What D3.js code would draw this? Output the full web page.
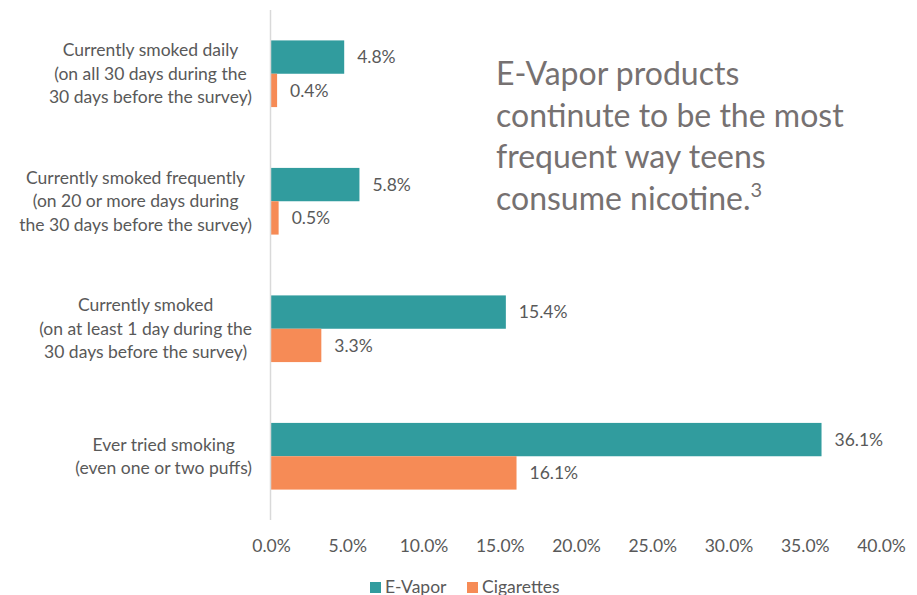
<!DOCTYPE html>
<html lang="en">
  <head>
    <meta charset="UTF-8" />
    <title>E-Vapor vs Cigarettes</title>
    <script src="https://cdn.jsdelivr.net/npm/d3@7"></script>
    <style>
      body { margin: 0; background: #fff; }
      svg { display: block; font-family: Lato, "Open Sans", sans-serif; }
    </style>
  </head>
  <body>
    <svg width="917" height="595"></svg>
    <script>
      // categories (top to bottom), each label is split in lines
      const categories = [
        ["Currently smoked daily", "(on all 30 days during the", "30 days before the survey)"],
        ["Currently smoked frequently", "(on 20 or more days during", "the 30 days before the survey)"],
        ["Currently smoked", "(on at least 1 day during the", "30 days before the survey)"],
        ["Ever tried smoking", "(even one or two puffs)"]
      ];
      const series = ["E-Vapor", "Cigarettes"];
      const eVapor = [4.8, 5.8, 15.4, 36.1];
      const cigarettes = [0.4, 0.5, 3.3, 16.1];
      const xTicks = [0, 5, 10, 15, 20, 25, 30, 35, 40];
      const note = ["E-Vapor products", "continute to be the most", "frequent way teens", "consume nicotine."];

      const colors = { "E-Vapor": "#319C9E", "Cigarettes": "#F68B56" };
      const textColor = "#595959";

      const svg = d3.select("svg");
      const plotLeft = 271, plotRight = 881, plotTop = 10, plotBottom = 520;

      const x = d3.scaleLinear().domain([0, 40]).range([plotLeft, plotRight]);
      const y = d3.scaleBand()
        .domain(d3.range(categories.length))
        .range([plotTop, plotBottom])
        .paddingInner(0.477)
        .paddingOuter(0.2385);
      const ySub = d3.scaleBand().domain(series).range([0, y.bandwidth()]);

      const rows = categories.map((c, i) => ({
        i,
        vals: [
          { key: "E-Vapor", v: eVapor[i] },
          { key: "Cigarettes", v: cigarettes[i] }
        ]
      }));

      // bars
      const g = svg.selectAll("g.row").data(rows).join("g")
        .attr("class", "row")
        .attr("transform", d => `translate(0,${y(d.i)})`);

      g.selectAll("rect").data(d => d.vals).join("rect")
        .attr("x", x(0))
        .attr("y", d => ySub(d.key))
        .attr("width", d => x(d.v) - x(0))
        .attr("height", ySub.bandwidth())
        .attr("fill", d => colors[d.key]);

      g.selectAll("text.val").data(d => d.vals).join("text")
        .attr("class", "val")
        .attr("x", d => x(d.v) + 13)
        .attr("y", d => ySub(d.key) + ySub.bandwidth() / 2)
        .attr("dy", "0.35em")
        .attr("font-size", 17.5)
        .attr("fill", textColor)
        .text(d => d.v.toFixed(1) + "%");

      // vertical axis line
      svg.append("line")
        .attr("x1", plotLeft - 0.5).attr("x2", plotLeft - 0.5)
        .attr("y1", plotTop).attr("y2", plotBottom)
        .attr("stroke", "#d9d9d9").attr("stroke-width", 1.5);

      // category labels: centred blocks, right edge at 252
      categories.forEach((lines, i) => {
        const cy = y(i) + y.bandwidth() / 2;
        const lh = 23.5;
        const t = svg.append("text")
          .attr("font-size", 17.5)
          .attr("fill", textColor)
          .attr("text-anchor", "middle");
        const spans = lines.map((l, k) => t.append("tspan")
          .attr("y", cy + (k - (lines.length - 1) / 2) * lh)
          .attr("dy", "0.35em")
          .text(l));
        const w = d3.max(spans, s => s.node().getComputedTextLength());
        spans.forEach(s => s.attr("x", 252 - w / 2));
      });

      // x axis tick labels
      const xAxis = d3.axisBottom(x).tickValues(xTicks).tickSize(0)
        .tickFormat(d => d.toFixed(1) + "%");
      const ax = svg.append("g")
        .attr("transform", "translate(0,537)")
        .call(xAxis);
      ax.select(".domain").remove();
      ax.selectAll("text")
        .attr("font-family", "Lato, sans-serif")
        .attr("font-size", 17.5)
        .attr("fill", textColor);

      // legend
      const legend = svg.append("g").attr("transform", "translate(370,582)");
      const lx = [0, 97];
      series.forEach((s, k) => {
        legend.append("rect")
          .attr("x", lx[k]).attr("y", 0)
          .attr("width", 11).attr("height", 11)
          .attr("fill", colors[s]);
        legend.append("text")
          .attr("x", lx[k] + 15).attr("y", 10.5)
          .attr("font-size", 17.5)
          .attr("fill", textColor)
          .text(s);
      });

      // annotation
      const nt = svg.append("text")
        .attr("font-size", 32)
        .attr("fill", "#767171");
      note.forEach((l, k) => {
        nt.append("tspan").attr("x", 496).attr("y", 85 + k * 41.5).text(l);
        if (k === note.length - 1) {
          nt.append("tspan").attr("dy", -13).attr("font-size", 20).text("3");
        }
      });
    </script>
  </body>
</html>
